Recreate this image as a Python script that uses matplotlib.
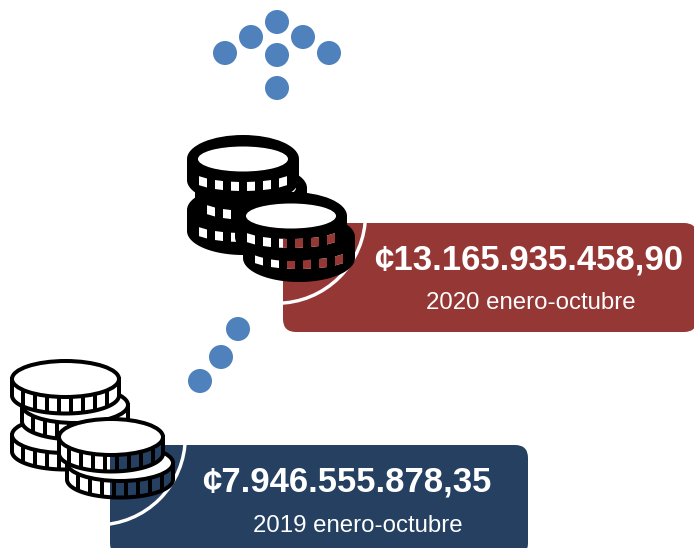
import numpy as np
import matplotlib
matplotlib.use("Agg")
import matplotlib.pyplot as plt
from matplotlib.patches import Circle, Ellipse, FancyBboxPatch, Polygon

plt.rcParams['font.family'] = ['Liberation Sans', 'DejaVu Sans']

# Chart content
amounts = ["¢13.165.935.458,90", "¢7.946.555.878,35"]
periods = ["2020 enero-octubre", "2019 enero-octubre"]

# Decoration layout, in pixel coordinates of the picture
RED, NAVY, BLUE = "#953735", "#254061", "#4F81BD"
dots = [(225, 53), (251, 37), (277, 22), (303, 37), (329, 53), (277, 55), (277, 88),
        (238, 329), (221, 357), (200, 381)]

W, H = 694, 548
fig = plt.figure(figsize=(W / 100, H / 100), dpi=100)
ax = fig.add_axes([0, 0, 1, 1])
ax.set_xlim(0, W)
ax.set_ylim(H, 0)
ax.axis("off")
PX = 0.72  # one pixel in points


def panel(x0, y0, x1, y1, color, arc_c, arc_r):
    p = FancyBboxPatch((x0 + 13, y0 + 13), x1 - x0 - 26, y1 - y0 - 26,
                       boxstyle="round,pad=13,rounding_size=13",
                       fc=color, ec="none", zorder=1)
    ax.add_patch(p)
    a = Circle(arc_c, arc_r, fc="none", ec="white", lw=3.4 * PX, zorder=2)
    ax.add_patch(a)
    a.set_clip_path(p)
    return p


def body_path(cx, cy, rx, ry, h):
    t = np.linspace(0, np.pi, 80)
    xs = cx + rx * np.cos(t)
    ys = cy + h + ry * np.sin(t)
    return np.column_stack([np.r_[cx + rx, xs, cx - rx], np.r_[cy, ys, cy]])


def heavy_coin(cx, cy, z, clip):
    rx, ry, h = 56, 24, 21
    ax.add_patch(Polygon(body_path(cx, cy, rx, ry, h), fc="black", ec="none", zorder=z))
    ax.add_patch(Ellipse((cx, cy), 2 * rx, 2 * ry, fc="black", ec="none", zorder=z))
    ax.add_patch(Ellipse((cx, cy), 90, 25, fc="white", ec="none", zorder=z + 0.2))
    for dx in (-40, -24, -8, 8, 24, 40):
        xx = np.array([dx - 4, dx + 4, dx + 4, dx - 4])
        yy = cy + 15 + 12.5 * np.sqrt(1 - (xx / 52) ** 2) + np.array([-4.5, -4.5, 4.5, 4.5])
        pts = np.column_stack([cx + xx, yy])
        ax.add_patch(Polygon(pts, fc="white", ec="none", zorder=z + 0.1))
        w = Polygon(pts, fc=clip.get_facecolor(), ec="none", zorder=z + 0.15)
        ax.add_patch(w)
        w.set_clip_path(clip)


def line_coin(cx, cy, rx, z, clip):
    ry, h = 18, 16.5
    lw = 4 * PX
    body = body_path(cx, cy, rx, ry, h)
    ax.add_patch(Polygon(body, fc="white", ec="none", zorder=z))
    f = Polygon(body, fc=clip.get_facecolor(), ec="none", zorder=z + 0.05)
    ax.add_patch(f)
    f.set_clip_path(clip)
    ax.add_patch(Polygon(body, fc="none", ec="black", lw=lw, zorder=z + 0.1))
    for dx in (-42, -30, -18, -6, 6, 18, 30, 42):
        s = np.sqrt(1 - (dx / rx) ** 2) * ry
        ax.plot([cx + dx, cx + dx], [cy + s, cy + h + s], color="black", lw=lw,
                solid_capstyle="butt", zorder=z + 0.1)
    ax.add_patch(Ellipse((cx, cy), 2 * rx, 2 * ry, fc="white", ec="black", lw=lw, zorder=z + 0.2))


red_panel = panel(283, 223, 697, 332, RED, (276.5, 214.3), 89)
navy_panel = panel(110, 445, 528, 556, NAVY, (97.3, 436.9), 88)

for i, (cx, cy) in enumerate([(243, 210), (251, 188), (243, 159), (299, 237), (291, 216)]):
    heavy_coin(cx, cy, 3 + i, red_panel)
for i, (cx, cy, rx) in enumerate([(65, 435, 53), (75, 405, 53), (65.5, 379, 53.5),
                                  (120, 463, 53), (111, 437, 52)]):
    line_coin(cx, cy, rx, 3 + i, navy_panel)

for x, y in dots:
    ax.add_patch(Circle((x, y), 12, fc=BLUE, ec="none", zorder=2))

ax.text(529, 260, amounts[0], color="white", fontsize=34.8 * PX, fontweight="bold",
        ha="center", va="center", zorder=10)
ax.text(531, 303, periods[0], color="white", fontsize=24 * PX,
        ha="center", va="center", zorder=10)
ax.text(347, 482, amounts[1], color="white", fontsize=34.8 * PX, fontweight="bold",
        ha="center", va="center", zorder=10)
ax.text(358, 526, periods[1], color="white", fontsize=24 * PX,
        ha="center", va="center", zorder=10)

fig.savefig("out.png", dpi=100)
